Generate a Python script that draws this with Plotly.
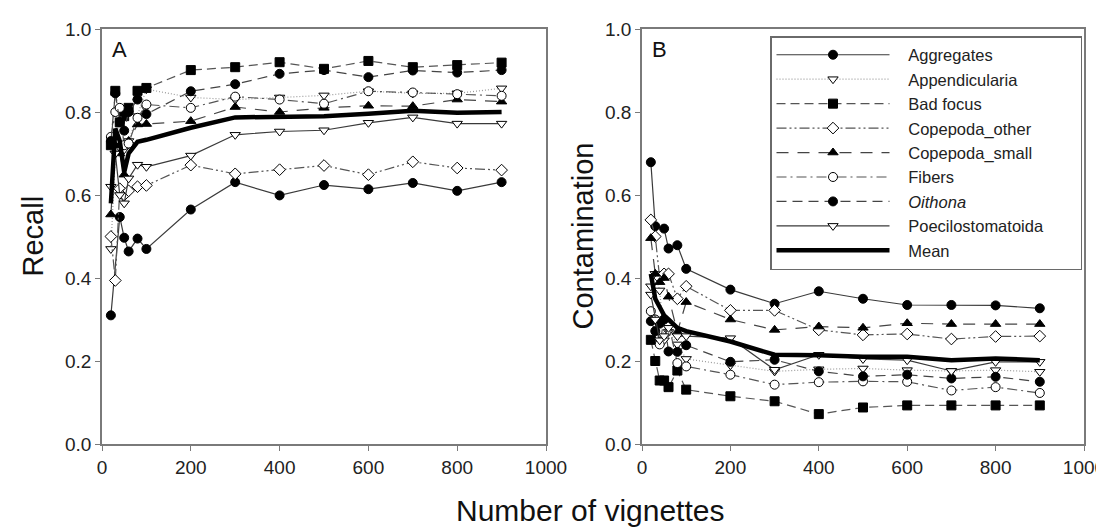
import plotly.graph_objects as go

# ---------------- data ----------------
vignettes = [20, 30, 40, 50, 60, 80, 100, 200, 300, 400, 500, 600, 700, 800, 900]

categories = ["Aggregates", "Appendicularia", "Bad focus", "Copepoda_other",
              "Copepoda_small", "Fibers", "<i>Oithona</i>", "Poecilostomatoida", "Mean"]

recall_aggregates = [0.31, None, 0.547, 0.497, 0.464, 0.495, 0.47, 0.565, 0.631, 0.599, 0.624, 0.614, 0.629, 0.61, 0.631]
recall_appendicularia = [0.47, 0.70, 0.80, 0.71, 0.73, 0.79, 0.855, 0.835, 0.83, 0.835, 0.84, 0.85, 0.845, 0.845, 0.857]
recall_badfocus = [0.72, 0.851, 0.775, 0.79, 0.81, 0.851, 0.858, 0.901, 0.908, 0.92, 0.904, 0.923, 0.908, 0.913, 0.919]
recall_cop_other = [0.50, 0.394, 0.615, 0.60, 0.61, 0.62, 0.623, 0.672, 0.651, 0.661, 0.671, 0.649, 0.68, 0.665, 0.66]
recall_cop_small = [0.553, 0.72, 0.70, 0.649, 0.73, 0.77, 0.771, 0.778, 0.812, 0.80, 0.81, 0.815, 0.814, 0.83, 0.825]
recall_fibers = [0.74, 0.80, 0.81, 0.72, 0.724, 0.786, 0.818, 0.81, 0.837, 0.83, 0.82, 0.85, 0.847, 0.843, 0.839]
recall_oithona = [0.73, 0.845, 0.776, 0.755, 0.80, 0.83, 0.795, 0.85, 0.867, 0.892, 0.901, 0.884, 0.90, 0.895, 0.901]
recall_poecilo = [0.62, 0.70, 0.60, 0.58, 0.64, 0.673, 0.668, 0.695, 0.745, 0.753, 0.756, 0.774, 0.787, 0.772, 0.772]
recall_mean = [0.58, 0.76, 0.73, 0.655, 0.70, 0.728, 0.733, 0.762, 0.787, 0.788, 0.79, 0.796, 0.803, 0.798, 0.80]

cont_aggregates = [0.679, 0.525, None, 0.519, 0.471, 0.479, 0.422, 0.372, 0.338, 0.368, 0.35, 0.335, 0.335, 0.334, 0.327]
cont_appendicularia = [0.38, 0.41, 0.37, 0.25, 0.27, 0.24, 0.205, 0.19, 0.175, 0.18, 0.182, 0.178, 0.176, 0.178, 0.174]
cont_badfocus = [0.251, 0.20, 0.153, 0.153, 0.137, 0.177, 0.131, 0.115, 0.103, 0.072, 0.088, 0.093, 0.093, 0.093, 0.093]
cont_cop_other = [0.54, 0.50, 0.40, 0.41, 0.41, 0.35, 0.38, 0.322, 0.322, 0.275, 0.263, 0.265, 0.253, 0.259, 0.26]
cont_cop_small = [0.496, 0.41, 0.39, 0.40, 0.355, 0.27, 0.342, 0.30, 0.275, 0.283, 0.28, 0.291, 0.289, 0.289, 0.289]
cont_fibers = [0.32, 0.30, 0.24, 0.30, 0.29, 0.195, 0.187, 0.167, 0.143, 0.149, 0.151, 0.15, 0.129, 0.137, 0.123]
cont_oithona = [0.296, 0.272, 0.29, 0.30, 0.223, 0.222, 0.238, 0.198, 0.203, 0.175, 0.163, 0.167, 0.158, 0.162, 0.15]
cont_poecilo = [0.36, 0.30, 0.25, 0.26, 0.28, 0.26, 0.26, 0.255, 0.179, 0.215, 0.205, 0.202, 0.176, 0.198, 0.198]
cont_mean = [0.41, 0.35, 0.33, 0.31, 0.30, 0.28, 0.272, 0.247, 0.215, 0.214, 0.21, 0.21, 0.202, 0.206, 0.202]

recall_series = [recall_aggregates, recall_appendicularia, recall_badfocus, recall_cop_other,
                 recall_cop_small, recall_fibers, recall_oithona, recall_poecilo, recall_mean]
cont_series = [cont_aggregates, cont_appendicularia, cont_badfocus, cont_cop_other,
               cont_cop_small, cont_fibers, cont_oithona, cont_poecilo, cont_mean]

y_ticks = [0.0, 0.2, 0.4, 0.6, 0.8, 1.0]
x_ticks = [0, 200, 400, 600, 800, 1000]

# ---------------- styles ----------------
DARK = "#3a3a3a"
styles = [
    dict(symbol="circle", fill="#000000", dash="solid", lcolor=DARK, width=1.2),
    dict(symbol="triangle-down", fill="#ffffff", dash="1px,2px", lcolor="#9a9a9a", width=1.2),
    dict(symbol="square", fill="#000000", dash="9px,5px", lcolor="#555555", width=1.2),
    dict(symbol="diamond", fill="#ffffff", dash="10px,3px,2px,3px,2px,3px", lcolor="#555555", width=1.2),
    dict(symbol="triangle-up", fill="#000000", dash="12px,9px", lcolor="#444444", width=1.2),
    dict(symbol="circle", fill="#ffffff", dash="10px,4px,2px,4px", lcolor="#555555", width=1.2),
    dict(symbol="circle", fill="#000000", dash="10px,6px", lcolor="#444444", width=1.2),
    dict(symbol="triangle-down", fill="#ffffff", dash="solid", lcolor=DARK, width=1.2),
    None,
]

NB = "\u00a0"
def legend_label(name):
    # small visual gap between the legend sample and its text, and a wider box
    lab = NB * 3 + name
    if name == "Poecilostomatoida":
        lab += NB * 7
    return lab

fig = go.Figure()
FONT = "Liberation Sans, Arial, sans-serif"

for panel, (series_list, xa, ya) in enumerate([(recall_series, "x", "y"), (cont_series, "x2", "y2")]):
    for name, vals, st in zip(categories, series_list, styles):
        if st is None:
            tr = go.Scatter(x=vignettes, y=vals, name=legend_label(name), mode="lines",
                            line=dict(color="#000000", width=4.5),
                            connectgaps=True, xaxis=xa, yaxis=ya,
                            showlegend=(panel == 1))
        else:
            tr = go.Scatter(x=vignettes, y=vals, name=legend_label(name), mode="lines+markers",
                            line=dict(color=st["lcolor"], width=st["width"], dash=st["dash"]),
                            marker=dict(symbol=st["symbol"], size=9, color=st["fill"],
                                        line=dict(color="#000000", width=1)),
                            connectgaps=True, xaxis=xa, yaxis=ya,
                            showlegend=(panel == 1))
        fig.add_trace(tr)

W, H = 1104, 527
ax_common = dict(showgrid=False, zeroline=False, showline=True, linecolor="#7a7a7a",
                 linewidth=1.5, mirror=True, ticks="outside", ticklen=5, tickwidth=1.2,
                 tickcolor="#7a7a7a", tickfont=dict(family=FONT, size=19, color="#222222"),
                 automargin=False)

y_dom = [1 - 436 / H, 1 - 21 / H]
fig.update_layout(
    width=W, height=H,
    margin=dict(l=0, r=0, t=0, b=0, pad=0),
    paper_bgcolor="white", plot_bgcolor="white",
    font=dict(family=FONT, color="#222222"),
    xaxis=dict(domain=[94 / W, 538 / W], range=[0, 1000], tickvals=x_ticks, anchor="y", **ax_common),
    yaxis=dict(domain=y_dom, range=[0, 1], tickvals=y_ticks, tickformat=".1f", anchor="x", **ax_common),
    xaxis2=dict(domain=[634 / W, 1076 / W], range=[0, 1000], tickvals=x_ticks, anchor="y2", **ax_common),
    yaxis2=dict(domain=y_dom, range=[0, 1], tickvals=y_ticks, tickformat=".1f", anchor="x2", **ax_common),
    legend=dict(x=762 / W, y=1 - 28 / H, xanchor="left", yanchor="top",
                bgcolor="white", bordercolor="#6a6a6a", borderwidth=1.5,
                font=dict(family=FONT, size=16.5, color="#222222"),
                itemwidth=113, tracegroupgap=0),
    showlegend=True,
)

annos = [
    dict(text="A", x=0.017, y=0.985, xref="x domain", yref="y domain", xanchor="left", yanchor="top",
         font=dict(size=22)),
    dict(text="B", x=0.017, y=0.985, xref="x2 domain", yref="y2 domain", xanchor="left", yanchor="top",
         font=dict(size=22)),
    dict(text="Recall", x=24 / W, y=(y_dom[0] + y_dom[1]) / 2, xref="paper", yref="paper",
         textangle=-90, xanchor="center", yanchor="middle", font=dict(size=29)),
    dict(text="Contamination", x=574 / W, y=(y_dom[0] + y_dom[1]) / 2, xref="paper", yref="paper",
         textangle=-90, xanchor="center", yanchor="middle", font=dict(size=29)),
    dict(text="Number of vignettes", x=582 / W, y=1 - 502 / H, xref="paper", yref="paper",
         xanchor="center", yanchor="middle", font=dict(size=30)),
]
for a in annos:
    a["showarrow"] = False
    a["font"]["family"] = FONT
    a["font"]["color"] = "#111111"
    fig.add_annotation(**a)

fig.write_html("out.html")
